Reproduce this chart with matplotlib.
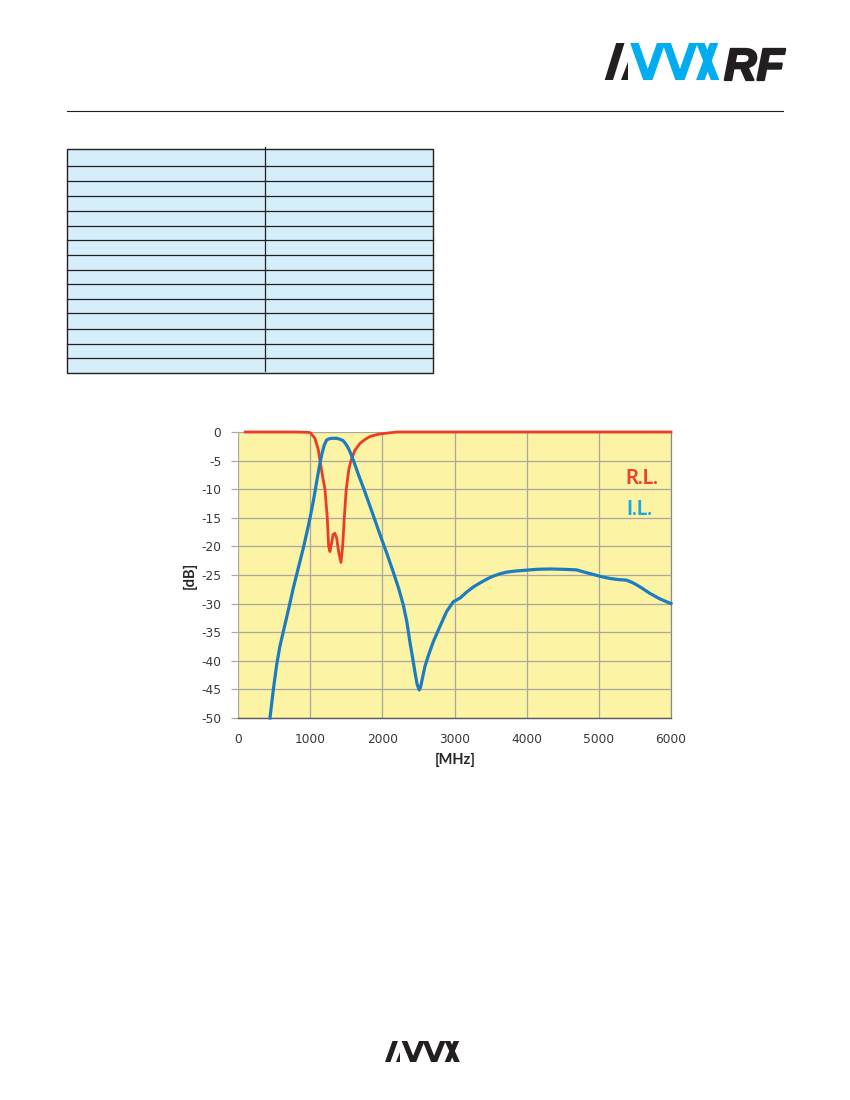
import numpy as np
import matplotlib
matplotlib.use("Agg")
import matplotlib.pyplot as plt
import matplotlib.patheffects as pe
from matplotlib.patches import Polygon, Rectangle
from matplotlib.lines import Line2D

# frequency response
rl_freq = [100, 800, 950, 1000, 1066, 1113, 1136, 1170, 1205, 1237, 1256, 1274,
           1295, 1318, 1343, 1368, 1395, 1427, 1450, 1473, 1500, 1535, 1565,
           1620, 1690, 1760, 1828, 1940, 2060, 2200, 6000]
rl_db = [0, 0, -0.05, -0.1, -1.1, -3.1, -5.0, -7.6, -10.0, -15.0, -20.0, -20.9,
         -19.6, -17.9, -17.7, -18.6, -21.0, -22.8, -20.0, -15.0, -10.0, -6.6, -5.0,
         -3.2, -2.0, -1.3, -0.8, -0.4, -0.2, 0, 0]

il_freq = [443, 490, 536, 580, 628, 700, 766, 835, 905, 950, 997, 1045, 1090,
           1125, 1159, 1195, 1228, 1260, 1300, 1367, 1420, 1455, 1482, 1520, 1560,
           1600, 1670, 1745, 1850, 1967, 2070, 2160, 2225, 2290, 2340, 2382,
           2420, 2451, 2480, 2511, 2530, 2560, 2590, 2640, 2705, 2798, 2890, 2982,
           3080, 3167, 3260, 3352, 3450, 3536, 3630, 3721, 3850, 3998, 4150, 4321,
           4500, 4691, 4800, 4921, 5040, 5152, 5270, 5383, 5460, 5521, 5610, 5706,
           5850, 6000]
il_db = [-50, -45, -40.7, -37.5, -34.9, -31, -27.3, -23.8, -20.3, -17.8, -15.1,
         -12, -8.7, -6.2, -4.0, -2.3, -1.4, -1.2, -1.1, -1.1, -1.3, -1.5, -1.9,
         -2.6, -3.7, -5.0, -7.5, -10.0, -13.7, -17.9, -21.5, -24.8, -27.3, -30.2,
         -33.2, -36.7, -39.5, -41.9, -44.0, -45.1, -44.6, -42.8, -41.0, -39.0,
         -36.7, -34.0, -31.4, -29.7, -29.0, -28.0, -27.1, -26.4, -25.7, -25.2,
         -24.8, -24.5, -24.3, -24.15, -24.0, -23.95, -24.0, -24.1, -24.5, -24.9,
         -25.3, -25.6, -25.8, -25.9, -26.3, -26.7, -27.4, -28.2, -29.2, -30.0]

x_ticks = [0, 1000, 2000, 3000, 4000, 5000, 6000]
y_ticks = [0, -5, -10, -15, -20, -25, -30, -35, -40, -45, -50]

W, H = 850, 1100


def px(x, y):
    # page pixel -> figure fraction
    return x / W, 1 - y / H


def back(t, s=0.35, w=0.23):
    # "\" stroke, t = left edge at the top
    return [(t, 0), (t + w, 0), (t + s + w, 1), (t + s, 1)]


def fwd(b, s=0.35, w=0.23):
    # "/" stroke, b = left edge at the bottom
    return [(b, 1), (b + w, 1), (b + s + w, 0), (b + s, 0)]


def avx_logo(fig, x0, top, h, col_a, col_v, sx=1.0):
    shapes = [
        (fwd(0, 0.31, 0.225), col_a),
        ([(0.45, 1), (0.63, 1), (0.63, 0.5)], col_a),
        (back(0.69), col_v),
        (fwd(1.06), col_v),
        (back(1.56), col_v),
        (fwd(1.93), col_v),
        (back(2.47, 0.40), col_v),
        (fwd(2.47, 0.37), col_v),
    ]
    for pts, c in shapes:
        xy = [px(x0 + u * h * sx, top + v * h) for u, v in pts]
        fig.patches.append(Polygon(xy, closed=True, facecolor=c, edgecolor='none',
                                   transform=fig.transFigure, figure=fig))


fig = plt.figure(figsize=(8.5, 11), dpi=100)

# header
avx_logo(fig, 604.7, 43, 37, '#231f20', '#00aeef')
fig.text(*px(724, 80), 'RF', fontsize=32.5, fontweight='bold', style='italic',
         family='Liberation Sans', color='#231f20', ha='left', va='baseline',
         path_effects=[pe.withStroke(linewidth=1.6, foreground='#231f20')])
fig.lines.append(Line2D([67 / W, 783 / W], [1 - 111 / H] * 2, color='#231f20', lw=0.8,
                        transform=fig.transFigure, figure=fig))

# empty spec table
row_lines = [149, 166, 181, 195.5, 210.5, 225.5, 240, 254.5, 269.5, 284.5, 298.5,
             313.5, 328.5, 343.5, 357.5, 372.5]
tx0, tx1, tdiv = 67, 433, 265
x_a, y_a = px(tx0, row_lines[-1])
x_b, y_b = px(tx1, row_lines[0])
fig.patches.append(Rectangle((x_a, y_a), x_b - x_a, y_b - y_a, facecolor='#d5eefa',
                             edgecolor='#231f20', lw=1.0, transform=fig.transFigure, figure=fig))
for yy in row_lines[1:-1]:
    fig.lines.append(Line2D([tx0 / W, tx1 / W], [1 - yy / H] * 2, color='#231f20', lw=0.9,
                            transform=fig.transFigure, figure=fig))
fig.lines.append(Line2D([tdiv / W] * 2, [1 - 147 / H, 1 - 371 / H], color='#231f20', lw=0.9,
                        transform=fig.transFigure, figure=fig))

# chart
left, bottom = px(238, 718)
right, top = px(671, 432)
ax = fig.add_axes([left, bottom, right - left, top - bottom])
ax.set_facecolor('#fcf3a4')
ax.set_xlim(0, 6000)
ax.set_ylim(-50, 0)
ax.set_xticks(x_ticks)
ax.set_yticks(y_ticks)
ax.set_xticklabels([str(t) for t in x_ticks])
ax.set_yticklabels([str(t) for t in y_ticks])
ax.set_axisbelow(True)
ax.grid(True, color='#a8a8a0', lw=0.9)
for s in ['top', 'left']:
    ax.spines[s].set_visible(False)
ax.spines['bottom'].set_color('#595959')
ax.spines['bottom'].set_linewidth(1.0)
ax.spines['right'].set_color('#8c8c8c')
ax.spines['right'].set_linewidth(0.9)
ax.tick_params(axis='x', length=0, pad=11, labelsize=8.8, labelcolor='#3a3a3a')
ax.tick_params(axis='y', length=5, width=0.9, color='#a8a8a0', pad=7, labelsize=8.8,
               labelcolor='#3a3a3a')

ax.plot(rl_freq, rl_db, color='#ee3b24', lw=2.0, solid_joinstyle='round', clip_on=False, zorder=3)
ax.plot(il_freq, il_db, color='#1b7dc0', lw=2.3, solid_joinstyle='round', clip_on=False, zorder=4)

fig.text(*px(190, 575), '[dB]', rotation=90, fontsize=10.5, fontweight='bold', family='Lato',
         color='#262626', ha='center', va='center')
fig.text(*px(455, 760), '[MHz]', fontsize=10.5, fontweight='bold', family='Lato',
         color='#262626', ha='center', va='center')

fig.text(*px(625, 478), 'R.L.', fontsize=14.5, fontweight='bold', family='Lato',
         color='#e8412c', ha='left', va='center')
fig.text(*px(626, 509), 'I.L.', fontsize=14.5, fontweight='bold', family='Lato',
         color='#1ba8e0', ha='left', va='center')

# footer logo
avx_logo(fig, 385, 1041, 21, '#231f20', '#231f20', sx=1.15)

fig.savefig('out.png', dpi=100, facecolor='white')
